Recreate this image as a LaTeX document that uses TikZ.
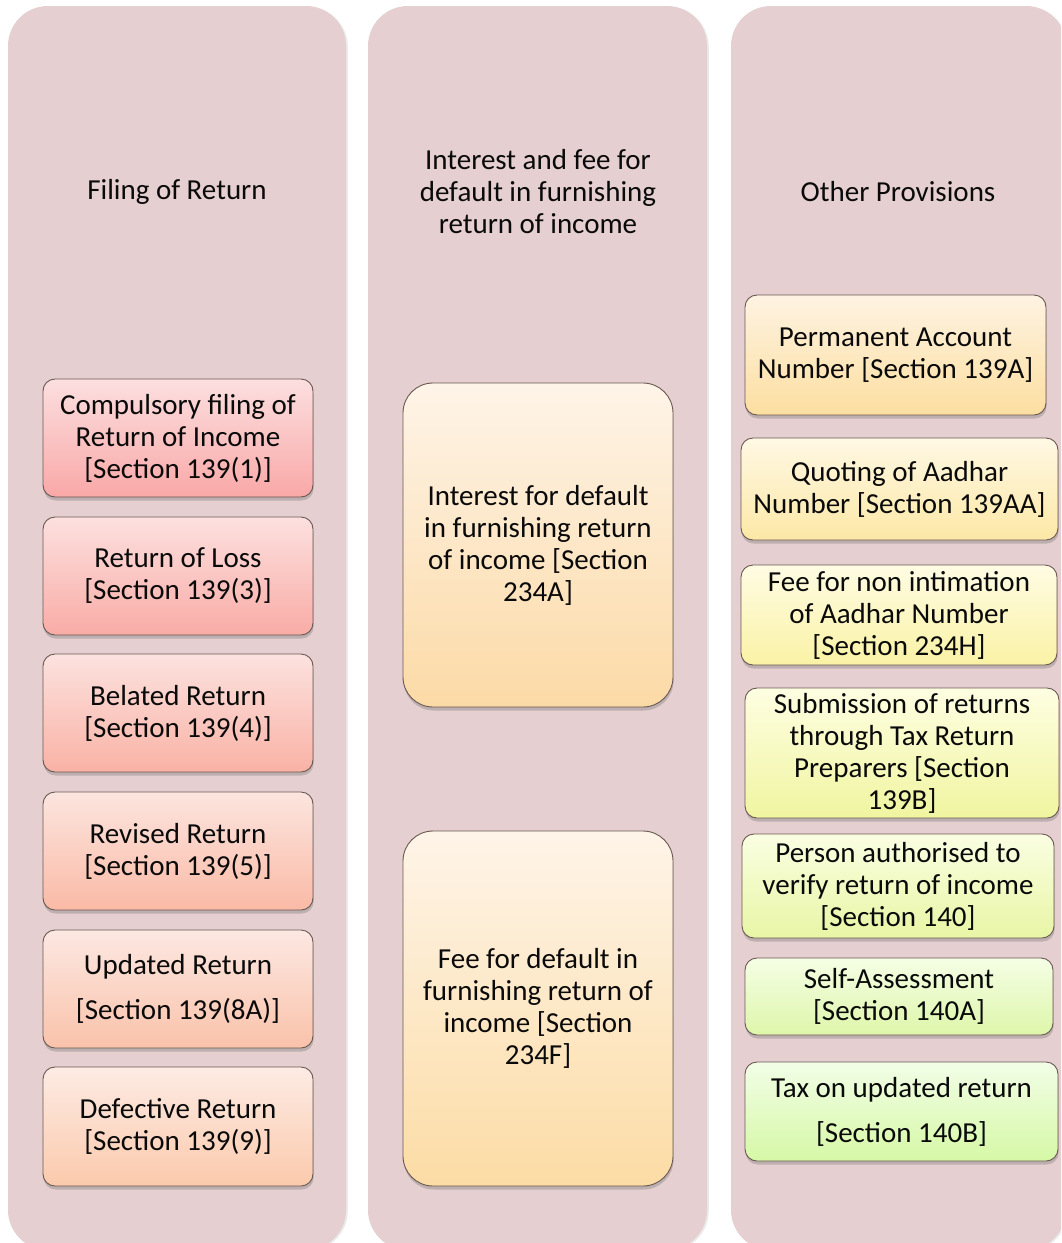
\documentclass[tikz,border=0pt]{standalone}
\usepackage{fontspec}
\setmainfont{Carlito}
\usetikzlibrary{shadows}
\definecolor{colbg}{RGB}{230,207,208}
\definecolor{boxline}{RGB}{105,88,82}
\definecolor{txt}{RGB}{10,10,10}
\begin{document}
\begin{tikzpicture}[x=1pt,y=-1pt,
  colbox/.style={fill=colbg, draw=none, rounded corners=40pt, inner sep=0pt,
    drop shadow={shadow xshift=1.8pt, shadow yshift=-0.8pt, opacity=0.16}},
  sbox/.style={draw=boxline, line width=0.9pt, rounded corners=12pt, inner sep=0pt,
    align=center, font=\fontsize{29}{32}\selectfont, text=txt,
    drop shadow={shadow xshift=0.6pt, shadow yshift=-3.5pt, opacity=0.4}},
  bigbox/.style={sbox, rounded corners=30pt},
  coltitle/.style={align=center, font=\fontsize{29}{32}\selectfont, text=txt, inner sep=0pt}
]
\useasboundingbox (0,0) rectangle (1061,1243);
\fill[white] (0,0) rectangle (1061,1243);
\begin{scope}
\clip (0,0) rectangle (1061,1243);
\node[colbox, minimum width=338pt, minimum height=1244pt] (col1) at (177,628) {};
\node[colbox, minimum width=339pt, minimum height=1244pt] (col2) at (537.5,628) {};
\node[colbox, minimum width=335pt, minimum height=1244pt] (col3) at (898.5,628) {};
\end{scope}

% column titles
\node[coltitle] (t1) at (177,192) {Filing of Return};
\node[coltitle] (t2) at (538,192) {Interest and fee for\\default in furnishing\\return of income};
\node[coltitle] (t3) at (898,192) {Other Provisions};

% left column
\node[sbox, minimum width=270pt, minimum height=118pt, top color={rgb,255:red,252;green,223;blue,224}, bottom color={rgb,255:red,249;green,168;blue,167}] (l1) at (178,438)
  {Compulsory filing of\\Return of Income\\{}[Section 139(1)]};
\node[sbox, minimum width=270pt, minimum height=118pt, top color={rgb,255:red,252;green,224;blue,223}, bottom color={rgb,255:red,249;green,172;blue,166}] (l2) at (178,576)
  {Return of Loss\\{}[Section 139(3)]};
\node[sbox, minimum width=270pt, minimum height=118pt, top color={rgb,255:red,252;green,226;blue,223}, bottom color={rgb,255:red,249;green,178;blue,165}] (l3) at (178,713)
  {Belated Return\\{}[Section 139(4)]};
\node[sbox, minimum width=270pt, minimum height=118pt, top color={rgb,255:red,252;green,229;blue,223}, bottom color={rgb,255:red,250;green,186;blue,166}] (l4) at (178,851)
  {Revised Return\\{}[Section 139(5)]};
\node[sbox, minimum width=270pt, minimum height=118pt, top color={rgb,255:red,252;green,232;blue,226}, bottom color={rgb,255:red,250;green,194;blue,170}] (l5) at (178,989)
  {Updated Return\\[13pt]{}[Section 139(8A)]};
\node[sbox, minimum width=270pt, minimum height=119pt, top color={rgb,255:red,253;green,235;blue,228}, bottom color={rgb,255:red,251;green,202;blue,172}] (l6) at (178,1126.5)
  {Defective Return\\{}[Section 139(9)]};

% middle column
\node[bigbox, minimum width=270pt, minimum height=324pt, top color={rgb,255:red,254;green,244;blue,232}, bottom color={rgb,255:red,252;green,218;blue,166}] (m1) at (538,545)
  {Interest for default\\in furnishing return\\of income [Section\\234A]};
\node[bigbox, minimum width=270pt, minimum height=355pt, top color={rgb,255:red,254;green,244;blue,232}, bottom color={rgb,255:red,252;green,220;blue,165}] (m2) at (538,1008.5)
  {Fee for default in\\furnishing return of\\income [Section\\234F]};

% right column
\node[sbox, minimum width=301pt, minimum height=120pt, top color={rgb,255:red,254;green,243;blue,226}, bottom color={rgb,255:red,252;green,222;blue,160}] (r1) at (895.5,355)
  {Permanent Account\\Number [Section 139A]};
\node[sbox, minimum width=317pt, minimum height=102pt, top color={rgb,255:red,255;green,248;blue,228}, bottom color={rgb,255:red,252;green,232;blue,166}] (r2) at (899.5,489)
  {Quoting of Aadhar\\Number [Section 139AA]};
\node[sbox, minimum width=316pt, minimum height=100pt, top color={rgb,255:red,255;green,252;blue,228}, bottom color={rgb,255:red,250;green,242;blue,165}] (r3) at (899,615)
  {Fee for non intimation\\of Aadhar Number\\{}[Section 234H]};
\node[sbox, minimum width=314pt, minimum height=130pt, top color={rgb,255:red,254;green,254;blue,226}, bottom color={rgb,255:red,240;green,245;blue,160}] (r4) at (902,753)
  {Submission of returns\\through Tax Return\\Preparers [Section\\139B]};
\node[sbox, minimum width=312pt, minimum height=104pt, top color={rgb,255:red,250;green,254;blue,226}, bottom color={rgb,255:red,232;green,246;blue,165}] (r5) at (898,886)
  {Person authorised to\\verify return of income\\{}[Section 140]};
\node[sbox, minimum width=308pt, minimum height=77pt, top color={rgb,255:red,245;green,254;blue,229}, bottom color={rgb,255:red,222;green,246;blue,170}] (r6) at (899,996.5)
  {Self-Assessment\\{}[Section 140A]};
\node[sbox, minimum width=313pt, minimum height=99pt, top color={rgb,255:red,242;green,254;blue,231}, bottom color={rgb,255:red,214;green,248;blue,166}] (r7) at (901.5,1111.5)
  {Tax on updated return\\[13pt]{}[Section 140B]};
\end{tikzpicture}
\end{document}
